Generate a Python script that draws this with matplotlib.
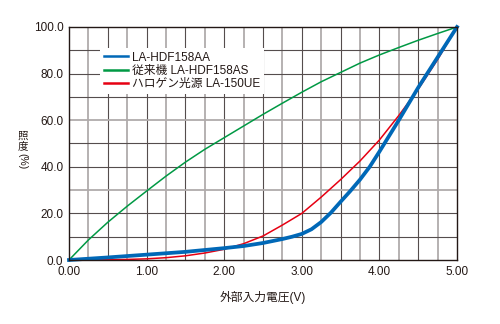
import numpy as np
import matplotlib
matplotlib.use('Agg')
from matplotlib import pyplot as plt

plt.rcParams['font.family'] = ['Liberation Sans', 'Noto Sans CJK JP', 'DejaVu Sans']

# input voltage (V) / illuminance (%)
blue_x = [0.0, 0.5, 1.0, 1.5, 2.0, 2.25, 2.5, 2.75, 2.875, 3.0, 3.125, 3.25,
          3.375, 3.5, 3.625, 3.75, 3.875, 4.0, 4.25, 4.5, 4.75, 5.0]
blue_y = [0.0, 1.1, 2.3, 3.5, 5.1, 6.0, 7.3, 9.0, 10.0, 11.2, 13.2, 16.3,
          20.3, 25.0, 29.6, 34.5, 40.0, 46.5, 60.0, 74.0, 87.0, 100.0]

green_x = [0.0, 0.25, 0.5, 0.75, 1.0, 1.25, 1.5, 1.75, 2.0, 2.25, 2.5, 2.75,
           3.0, 3.25, 3.5, 3.75, 4.0, 4.25, 4.5, 4.75, 5.0]
green_y = [0.0, 8.6, 16.2, 23.1, 29.6, 36.0, 42.0, 47.5, 52.5, 57.5, 62.5, 67.3,
           72.0, 76.5, 80.5, 84.5, 88.0, 91.2, 94.3, 97.2, 100.0]

red_x = [0.0, 0.5, 0.75, 1.0, 1.25, 1.5, 1.75, 2.0, 2.25, 2.5, 2.75,
         3.0, 3.25, 3.5, 3.75, 4.0, 4.25, 4.5, 4.75, 5.0]
red_y = [0.0, 0.1, 0.25, 0.5, 1.0, 1.8, 3.0, 4.6, 7.0, 10.3, 15.0,
         20.0, 27.0, 34.5, 42.5, 51.5, 62.0, 73.3, 86.0, 100.0]

labels = ['LA-HDF158AA', '従来機 LA-HDF158AS', 'ハロゲン光源 LA-150UE']
x_ticks = [0, 1, 2, 3, 4, 5]
y_ticks = [0, 20, 40, 60, 80, 100]

dark = '#231815'
grid_dark = '#554d4d'
grid_light = '#b0abab'

fig = plt.figure(figsize=(5.0, 3.24), dpi=100)
ax = fig.add_axes([0.138, 0.1975, 0.776, 0.7192])

# grid: quarter volt / 10% lines
for v in np.arange(0.25, 5.0, 0.25):
    light = abs((v / 0.25) % 2 - 1) < 1e-6
    ax.axvline(v, color=grid_light if light else grid_dark,
               lw=1.3 if light else 0.8, zorder=1)
for p in range(10, 100, 10):
    light = p in (30, 60)
    ax.axhline(p, color=grid_light if light else grid_dark,
               lw=1.3 if light else 0.8, zorder=1)

ax.plot(blue_x, blue_y, color='#0068b7', lw=2.7, label=labels[0], zorder=5,
        clip_on=False, solid_joinstyle='round')
ax.plot(green_x, green_y, color='#009944', lw=1.1, label=labels[1], zorder=3,
        clip_on=False)
ax.plot(red_x, red_y, color='#e60012', lw=1.1, label=labels[2], zorder=4,
        clip_on=False)

ax.set_xlim(0, 5)
ax.set_ylim(0, 100)
ax.set_xticks(x_ticks)
ax.set_xticklabels(['%.2f' % t for t in x_ticks])
ax.set_yticks(y_ticks)
ax.set_yticklabels(['%.1f' % t for t in y_ticks])
ax.tick_params(length=0, labelsize=8.5, colors=dark, pad=4)
for s in ax.spines.values():
    s.set_color(dark)
    s.set_linewidth(1.0)
    s.set_zorder(6)

leg = ax.legend(loc='upper left', bbox_to_anchor=(0.081, 0.91), borderaxespad=0,
                fontsize=8.5, frameon=True, fancybox=False, handlelength=2.0,
                handletextpad=0.35, labelspacing=0.12, borderpad=0.3)
leg.get_frame().set_facecolor('white')
leg.get_frame().set_edgecolor('none')
leg.get_frame().set_alpha(1)
leg.set_zorder(7)
for t in leg.get_texts():
    t.set_color(dark)
for h in leg.get_lines():
    h.set_linewidth(1.8)

ax.set_xlabel('外部入力電圧(V)', fontsize=8.5, color=dark, labelpad=10)

# vertical y label: kanji upright, "(%)" turned
fig.text(0.045, 0.582, '照', fontsize=7.5, color=dark, ha='center', va='center')
fig.text(0.045, 0.549, '度', fontsize=7.5, color=dark, ha='center', va='center')
fig.text(0.045, 0.503, '(%)', fontsize=7.5, color=dark, ha='center', va='center',
         rotation=270)

fig.savefig('out.png', dpi=100)
